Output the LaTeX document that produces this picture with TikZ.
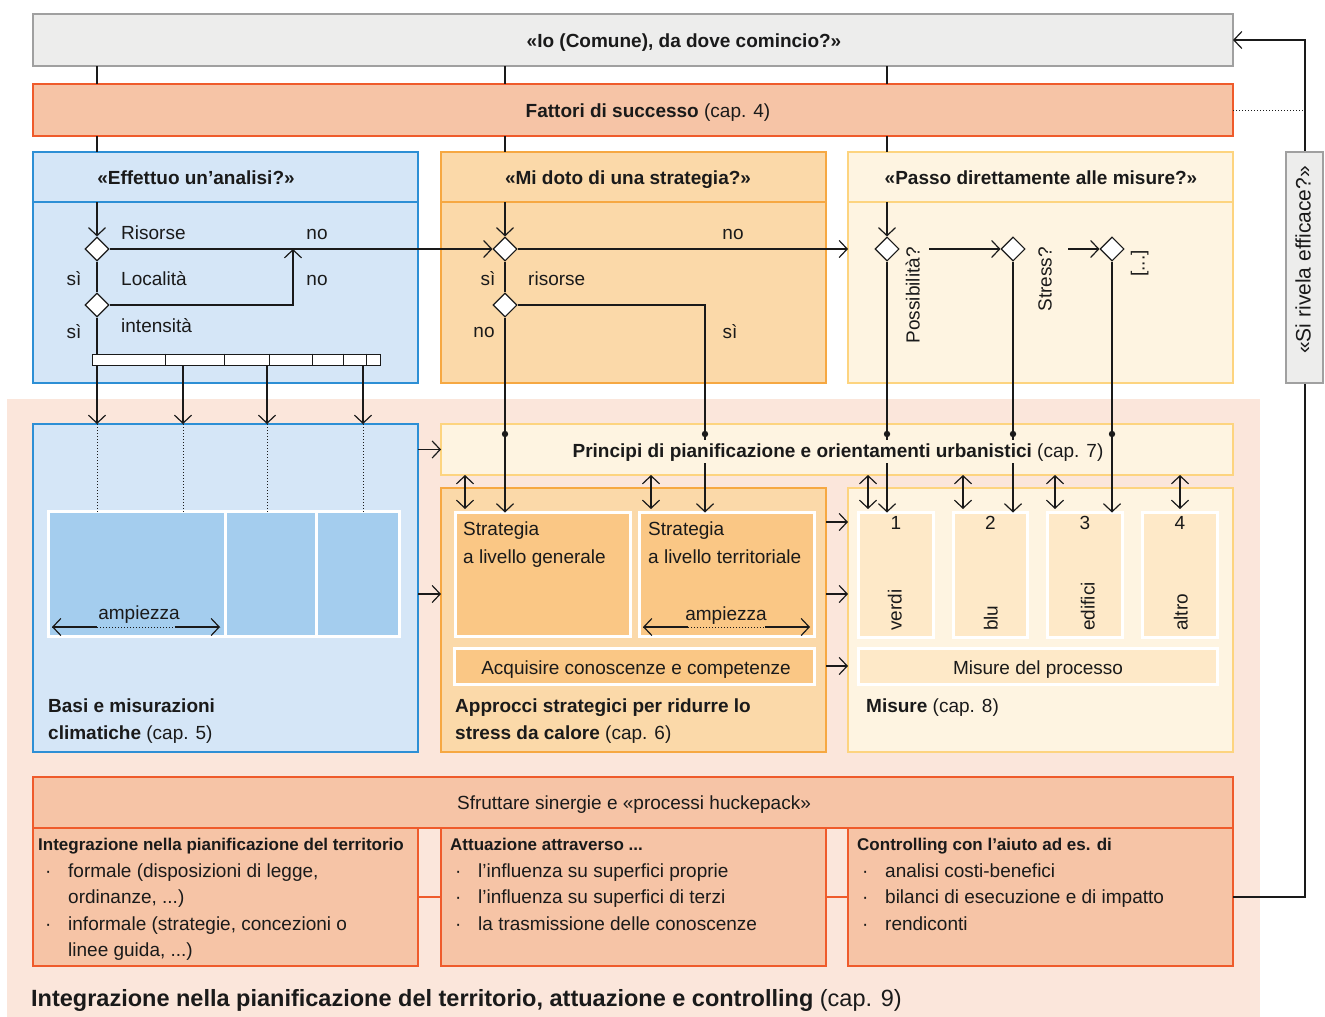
\documentclass[tikz,border=0pt]{standalone}
\usepackage{fontspec}
\setmainfont{Liberation Sans}
\usetikzlibrary{arrows.meta,shapes.geometric,positioning,calc}

\definecolor{ink}{HTML}{1A1A1A}
\definecolor{greyfill}{HTML}{EDEDEC}
\definecolor{greyline}{HTML}{A0A0A0}
\definecolor{salmonfill}{HTML}{F6C4A6}
\definecolor{salmonline}{HTML}{EF5B2B}
\definecolor{bluefill}{HTML}{D5E6F7}
\definecolor{blueline}{HTML}{2D8FD5}
\definecolor{bluecell}{HTML}{A4CDEE}
\definecolor{orangefill}{HTML}{FBD9A9}
\definecolor{orangeline}{HTML}{F6A842}
\definecolor{orangecell}{HTML}{FAC785}
\definecolor{yellowfill}{HTML}{FEF4E1}
\definecolor{yellowline}{HTML}{FDD47F}
\definecolor{yellowcell}{HTML}{FEE9C8}
\definecolor{peachbg}{HTML}{FBE6DB}

\newcommand{\diafont}{\fontsize{19}{26.5}\selectfont}
\newcommand{\listhead}[1]{{\fontsize{17}{26.5}\selectfont\bfseries #1}}
\newcommand{\itemdot}{\makebox[23pt][l]{·}}

\tikzset{
  panel/.style={draw, line width=1.3pt, inner sep=0pt, outer sep=0pt},
  bluepanel/.style={panel, draw=blueline, fill=bluefill, minimum width=385pt},
  orangepanel/.style={panel, draw=orangeline, fill=orangefill, minimum width=385pt},
  yellowpanel/.style={panel, draw=yellowline, fill=yellowfill, minimum width=385pt},
  salmonpanel/.style={panel, draw=salmonline, fill=salmonfill, minimum width=385pt},
  cell/.style={draw=white, line width=3pt, inner sep=0pt, outer sep=0pt},
  lbl/.style={inner sep=0pt, text height=13pt, text depth=0pt, text=ink, font=\diafont},
  ml/.style={inner sep=0pt, anchor=north west, align=left, text=ink, font=\diafont},
  dec/.style={diamond, draw=ink, fill=white, line width=1.1pt, inner sep=0pt, minimum size=24pt},
  link/.style={draw=ink, line width=1.2pt},
  flow/.style={link, -{Straight Barb[length=8pt,width=17pt]}},
  dflow/.style={link, {Straight Barb[length=8pt,width=17pt]}-{Straight Barb[length=8pt,width=17pt]}},
  dots/.style={draw=ink, line width=1pt, dash pattern=on 1pt off 2pt}
}

\begin{document}
\begin{tikzpicture}[x=1pt,y=-1pt]
  \useasboundingbox (0,0) rectangle (1325,1017);

  % Background of the lower part
  \fill[peachbg] (7,399) rectangle (1260,1017);

  % Panels
  \node[panel, draw=greyline, fill=greyfill, minimum width=1200pt, minimum height=52pt] (topq) at (633,40) {};
  \node[panel, draw=salmonline, fill=salmonfill, minimum width=1200pt, minimum height=52pt] (fattori) at (633,110) {};
  \node[bluepanel, minimum height=231pt] (anal) at (225.5,267.5) {};
  \node[orangepanel, minimum height=231pt] (strat) at (633.5,267.5) {};
  \node[yellowpanel, minimum height=231pt] (passo) at (1040.5,267.5) {};
  \node[bluepanel, minimum height=328pt] (basi) at (225.5,588) {};
  \node[yellowpanel, minimum width=792pt, minimum height=51pt] (principi) at (837,449.5) {};
  \node[orangepanel, minimum height=264pt] (approcci) at (633.5,620) {};
  \node[yellowpanel, minimum height=264pt] (misure) at (1040.5,620) {};
  \node[salmonpanel, minimum width=1200pt, minimum height=51pt] (sfrutt) at (633,802.5) {};
  \node[salmonpanel, minimum height=138pt] (integr) at (225.5,897) {};
  \node[salmonpanel, minimum height=138pt] (attua) at (633.5,897) {};
  \node[salmonpanel, minimum height=138pt] (contr) at (1040.5,897) {};

  % Header lines
  \coordinate (hl) at (0,202);
  \draw[blueline, line width=1.3pt] (anal.west |- hl) -- (anal.east |- hl);
  \draw[orangeline, line width=1.3pt] (strat.west |- hl) -- (strat.east |- hl);
  \draw[yellowline, line width=1.3pt] (passo.west |- hl) -- (passo.east |- hl);

  % Cells
  \node[cell, fill=bluecell, minimum width=176.5pt, minimum height=125pt] (bc1) at (136.75,574) {};
  \node[cell, fill=bluecell, minimum width=91.5pt, minimum height=125pt] (bc2) at (270.75,574) {};
  \node[cell, fill=bluecell, minimum width=83pt, minimum height=125pt] (bc3) at (358,574) {};
  \node[cell, fill=orangecell, minimum width=175pt, minimum height=124pt] (gen) at (543,574.5) {};
  \node[cell, fill=orangecell, minimum width=175pt, minimum height=124pt] (terr) at (727,574.5) {};
  \node[cell, fill=orangecell, minimum width=360pt, minimum height=36pt] (acq) at (634.5,666.5) {};
  \node[cell, fill=yellowcell, minimum width=75pt, minimum height=125pt] (yc1) at (896,575) {};
  \node[cell, fill=yellowcell, minimum width=74pt, minimum height=125pt] (yc2) at (990.5,575) {};
  \node[cell, fill=yellowcell, minimum width=75pt, minimum height=125pt] (yc3) at (1085,575) {};
  \node[cell, fill=yellowcell, minimum width=75pt, minimum height=125pt] (yc4) at (1180,575) {};
  \node[cell, fill=yellowcell, minimum width=359pt, minimum height=36pt] (proc) at (1038,666.5) {};

  % Decisions
  \node[dec] (d1) at (97,249) {};
  \node[dec] (d2) at (97,305) {};
  \node[dec] (o1) at (505,249) {};
  \node[dec] (o2) at (505,305) {};
  \node[dec] (y1) at (887,249) {};
  \node[dec] (y2) at (1013,249) {};
  \node[dec] (y3) at (1112,249) {};
  \node[draw=ink, fill=white, line width=1pt, inner sep=0pt, minimum width=288pt, minimum height=11pt] (bar) at (236,359.5) {};
  \foreach \x in {165,224,269,312,343,366}
    \draw[ink, line width=1pt] (bar.north -| \x,0) -- (bar.south -| \x,0);

  % Links from the top
  \foreach \n in {d1,o1,y1} {
    \draw[link] (topq.south -| \n) -- (fattori.north -| \n);
    \draw[link] (fattori.south -| \n) -- (anal.north -| \n);
    \draw[flow] (\n |- hl) -- (\n.north);
  }

  % Analysis
  \draw[link] (d1.south) -- (d2.north);
  \draw[flow] (d1.east) -- (o1.west);
  \draw[flow] (d2.east) -| (d1.east -| 293,0);
  \draw[link] (d2.south) -- (bar.north -| d2);
  \foreach \x in {97,183,267,363} {
    \draw[flow] (bar.south -| \x,0) -- (basi.north -| \x,0);
    \draw[dots] (basi.north -| \x,0) -- (bc1.north -| \x,0);
  }

  % Strategy
  \coordinate (tt) at (terr.north -| 705,0);
  \draw[link] (o1.south) -- (o2.north);
  \draw[flow] (o1.east) -- (o1.east -| passo.west);
  \draw[flow] (o2.south) -- (gen.north -| o2);
  \draw[flow] (o2.east) -| (tt);

  % Measures
  \coordinate (s1) at (929,249);
  \coordinate (s2) at (1068,249);
  \draw[flow] (s1) -- (y2.west);
  \draw[flow] (s2) -- (y3.west);
  \draw[flow] (y1.south) -- (yc1.north -| y1);
  \draw[flow] (y2.south) -- (yc2.north -| y2);
  \draw[flow] (y3.south) -- (yc3.north -| y3);
  \foreach \n in {o2,tt,y1,y2,y3}
    \fill[ink] (principi.north -| \n) ++(0,10) circle (3.2pt);

  % Between the panels
  \draw[flow] (basi.east |- principi) -- (principi.west);
  \draw[flow] (basi.east |- 0,594) -- (approcci.west |- 0,594);
  \foreach \y in {522,594,666}
    \draw[flow] (approcci.east |- 0,\y) -- (misure.west |- 0,\y);
  \foreach \x in {465,651,868,963,1055,1180}
    \draw[dflow] (principi.south -| \x,0) -- ++(0,34);
  \draw[salmonline, line width=1.3pt] (integr.east) -- (attua.west) (attua.east) -- (contr.west);

  % ampiezza
  \coordinate (ba1) at (52,627);
  \coordinate (ba2) at (220,627);
  \coordinate (ta1) at (643,627);
  \coordinate (ta2) at (810,627);
  \draw[dots] (ba1) -- (ba2);
  \draw[flow] ($(ba1)!.27!(ba2)$) -- (ba1);
  \draw[flow] ($(ba1)!.73!(ba2)$) -- (ba2);
  \draw[dots] (ta1) -- (ta2);
  \draw[flow] ($(ta1)!.27!(ta2)$) -- (ta1);
  \draw[flow] ($(ta1)!.73!(ta2)$) -- (ta2);

  % Feedback loop
  \draw[flow] (contr.east) -- ++(72,0) |- (topq.east);
  \draw[dots] (fattori.east) -- ++(72,0);
  \node[panel, draw=greyline, fill=greyfill, minimum width=37pt, minimum height=231pt] (effic) at (1304.5,267.5) {};

  % Texts
  \node[lbl] (topqt) at (684,41) {\bfseries «Io (Comune), da dove comincio?»};
  \node[lbl] (fattorit) at (648,111) {\textbf{Fattori di successo} (cap. 4)};
  \node[lbl] (analt) at (196,178) {\bfseries «Effettuo un’analisi?»};
  \node[lbl] (stratt) at (628,178) {\bfseries «Mi doto di una strategia?»};
  \node[lbl] (passot) at (1041,178) {\bfseries «Passo direttamente alle misure?»};
  \node[lbl, rotate=90, font=\fontsize{21}{26}\selectfont] (effict) at (1304,260) {«Si rivela efficace?»};

  \node[lbl, anchor=west] (q1) at (121,233) {Risorse};
  \node[lbl] (q1no) at (317,233) {no};
  \node[lbl] (q1si) at (74,279) {sì};
  \node[lbl, anchor=west] (q2) at (121,279) {Località};
  \node[lbl] (q2no) at (317,279) {no};
  \node[lbl] (q2si) at (74,332) {sì};
  \node[lbl, anchor=west] (q3) at (121,326) {intensità};

  \node[lbl] (r1no) at (733,233) {no};
  \node[lbl] (r1si) at (488,279) {sì};
  \node[lbl, anchor=west] (r2) at (528,279) {risorse};
  \node[lbl] (r2no) at (484,331) {no};
  \node[lbl] (r2si) at (730,332) {sì};

  \node[lbl, rotate=90, anchor=east] (m1) at (913,247) {Possibilità?};
  \node[lbl, rotate=90, anchor=east] (m2) at (1045,247) {Stress?};
  \node[lbl, rotate=90, anchor=east] (m3) at (1138,250) {[...]};

  \node[lbl] (bat) at (139,613) {ampiezza};
  \node[lbl] (tat) at (726,614) {ampiezza};
  \node[ml] (basit) at (48,699) {\textbf{Basi e misurazioni}\\\textbf{climatiche} (cap. 5)};

  \node[lbl, fill=yellowfill, inner xsep=2pt, inner ysep=5pt] (principit) at (838,451)
    {\textbf{Principi di pianificazione e orientamenti urbanistici} (cap. 7)};

  \node[ml] (gent) at (463,522) {Strategia\\[1pt]a livello generale};
  \node[ml] (terrt) at (648,522) {Strategia\\[1pt]a livello territoriale};
  \node[lbl] (acqt) at (636,668) {Acquisire conoscenze e competenze};
  \node[ml] (approccit) at (455,699) {\textbf{Approcci strategici per ridurre lo}\\\textbf{stress da calore} (cap. 6)};

  \foreach \n/\t in {yc1/1,yc2/2,yc3/3,yc4/4}
    \node[lbl, below=4pt of \n.north] (\n n) {\t};
  \node[lbl, rotate=90, anchor=west] (v1) at (895,631) {verdi};
  \node[lbl, rotate=90, anchor=west] (v2) at (991,631) {blu};
  \node[lbl, rotate=90, anchor=west] (v3) at (1088,631) {edifici};
  \node[lbl, rotate=90, anchor=west] (v4) at (1181,631) {altro};
  \node[lbl] (proct) at (1038,668) {Misure del processo};
  \node[lbl, anchor=west] (misuret) at (866,706) {\textbf{Misure} (cap. 8)};

  \node[lbl] (sfruttt) at (634,803) {Sfruttare sinergie e «processi huckepack»};
  \node[ml] (integrt) at (38,838) {\listhead{Integrazione nella pianificazione del territorio}\\
    \hspace*{7pt}\itemdot formale (disposizioni di legge,\\
    \hspace*{30pt}ordinanze, ...)\\
    \hspace*{7pt}\itemdot informale (strategie, concezioni o\\
    \hspace*{30pt}linee guida, ...)};
  \node[ml] (attuat) at (450,838) {\listhead{Attuazione attraverso ...}\\
    \hspace*{5pt}\itemdot l’influenza su superfici proprie\\
    \hspace*{5pt}\itemdot l’influenza su superfici di terzi\\
    \hspace*{5pt}\itemdot la trasmissione delle conoscenze};
  \node[ml] (contrt) at (857,838) {\listhead{Controlling con l’aiuto ad es. di}\\
    \hspace*{5pt}\itemdot analisi costi-benefici\\
    \hspace*{5pt}\itemdot bilanci di esecuzione e di impatto\\
    \hspace*{5pt}\itemdot rendiconti};

  \node[lbl, anchor=west, font=\fontsize{23.5}{28}\selectfont, text height=17pt] (titolo) at (31,998)
    {\textbf{Integrazione nella pianificazione del territorio, attuazione e controlling} (cap. 9)};
\end{tikzpicture}
\end{document}
